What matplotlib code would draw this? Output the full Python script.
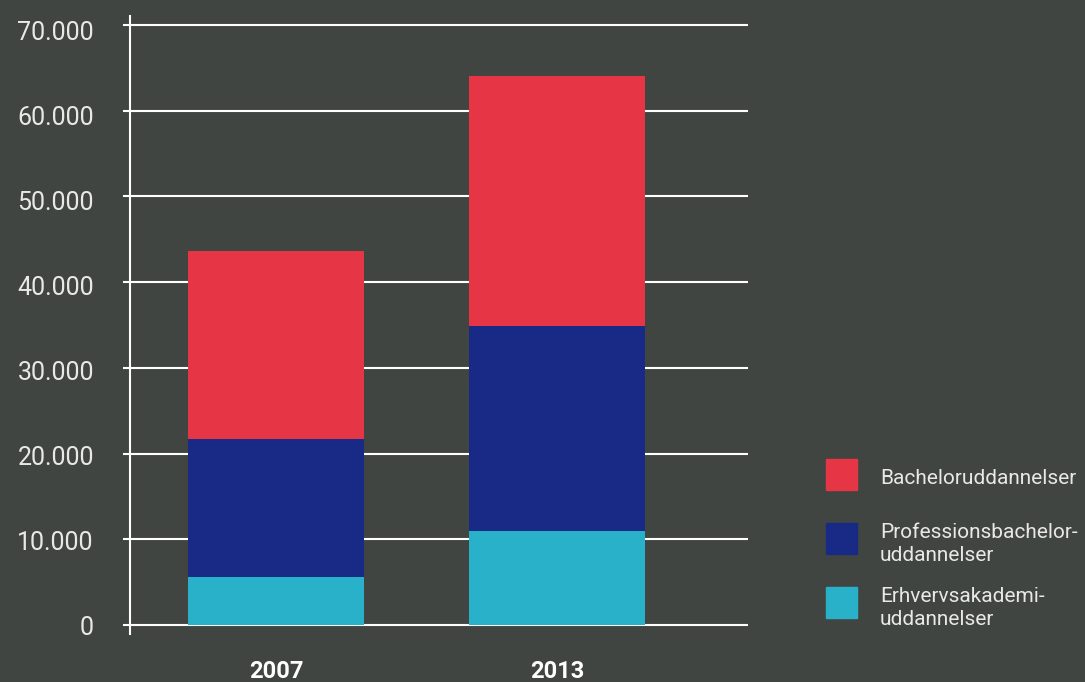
import matplotlib
matplotlib.use('Agg')
import matplotlib.pyplot as plt
from matplotlib.patches import Rectangle
from matplotlib.transforms import ScaledTranslation

plt.rcParams['font.family'] = ['Roboto', 'DejaVu Sans']

# data
years = ['2007', '2013']
erhverv = [5600, 11000]
profbach = [16100, 23900]
bachelor = [21900, 29100]
series_names = ['Bacheloruddannelser', 'Professionsbachelor-\nuddannelser', 'Erhvervsakademi-\nuddannelser']
yticks = [0, 10000, 20000, 30000, 40000, 50000, 60000, 70000]
ytick_labels = ['0', '10.000', '20.000', '30.000', '40.000', '50.000', '60.000', '70.000']

c_red = '#e63646'
c_blue = '#182a85'
c_cyan = '#28b1c8'
bg = '#404541'
fg = '#e8e8e8'

fig = plt.figure(figsize=(10.85, 6.82), dpi=100, facecolor=bg)
ax = fig.add_axes([130/1085, 48.4/682, (748-130)/1085, (665.6-48.4)/682])
ax.set_facecolor(bg)

x = range(len(years))
w = 0.626
b2 = [a + b for a, b in zip(erhverv, profbach)]
ax.bar(x, erhverv, w, color=c_cyan, zorder=3)
ax.bar(x, profbach, w, bottom=erhverv, color=c_blue, zorder=3)
ax.bar(x, bachelor, w, bottom=b2, color=c_red, zorder=3)

ax.set_xlim(-0.52, 1.68)
ax.set_ylim(-1000, 71000)
ax.set_yticks(yticks)
ax.set_yticklabels(ytick_labels, fontsize=18, color=fg)
ax.set_xticks(list(x))
ax.set_xticklabels(years, fontsize=17, color='white', fontweight='bold')
ax.tick_params(axis='y', length=5, width=1.5, color='white', pad=21)
ax.tick_params(axis='x', length=0, pad=19)
ax.grid(axis='y', color='white', lw=1.5, zorder=1)
for s in ['top', 'right', 'bottom']:
    ax.spines[s].set_visible(False)
ax.spines['left'].set_color('white')
ax.spines['left'].set_linewidth(1.5)

# labels sit slightly lower towards the top of the axis
for v, lab in zip(yticks, ax.get_yticklabels()):
    off = -(v / 70000) * 6 / 100
    lab.set_transform(lab.get_transform() + ScaledTranslation(0, off, fig.dpi_scale_trans))

# legend drawn at the right
colors = [c_red, c_blue, c_cyan]
tops = [459, 523, 587]
baselines = [484, 538, 602]
for col, t, bl, name in zip(colors, tops, baselines, series_names):
    fig.add_artist(Rectangle((826/1085, 1 - (t + 31)/682), 31/1085, 31/682,
                             transform=fig.transFigure, color=col))
    lines = name.split('\n')
    for i, ln in enumerate(lines):
        fig.text(880/1085, 1 - (bl + i * 23)/682, ln, color=fg, fontsize=15,
                 va='baseline', ha='left')

fig.savefig('out.png', dpi=100, facecolor=bg)
